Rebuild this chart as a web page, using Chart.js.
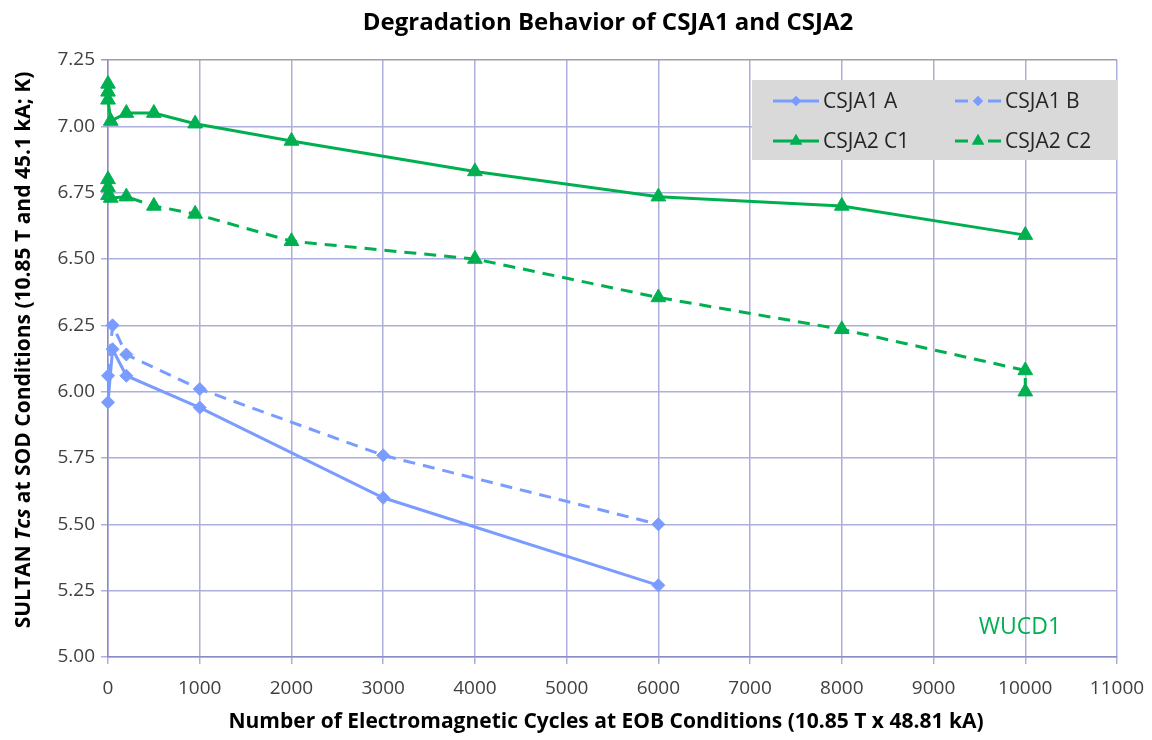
<!DOCTYPE html>
<html>
<head>
<meta charset="utf-8">
<script src="https://cdn.jsdelivr.net/npm/chart.js@4.4.1/dist/chart.umd.min.js"></script>
<style>
  body { margin: 0; background: #FFFFFF; }
  #chart { display: block; }
</style>
</head>
<body>
<canvas id="chart" width="1152" height="740"></canvas>
<script>
// data
const xA = [0, 50, 200, 1000, 3000, 6000];
const yA = [5.96, 6.16, 6.06, 5.94, 5.60, 5.27];
const xB = [0, 50, 200, 1000, 3000, 6000];
const yB = [6.06, 6.25, 6.14, 6.01, 5.76, 5.50];
const xC1 = [0, 0, 0, 30, 200, 500, 950, 2000, 4000, 6000, 8000, 10000];
const yC1 = [7.16, 7.13, 7.10, 7.02, 7.05, 7.05, 7.01, 6.945, 6.83, 6.735, 6.70, 6.59];
const xC2 = [0, 0, 0, 30, 200, 500, 950, 2000, 4000, 6000, 8000, 10000, 10000];
const yC2 = [6.80, 6.77, 6.74, 6.73, 6.735, 6.70, 6.67, 6.567, 6.50, 6.355, 6.235, 6.08, 6.00];
const seriesNames = ["CSJA1 A", "CSJA1 B", "CSJA2 C1", "CSJA2 C2"];

const blue = "#7b9cff";
const green = "#00b050";
const gridColor = "#aeaedc";
const font = "Open Sans";

const pts = (xs, ys) => xs.map((x, i) => ({x: x, y: ys[i]}));

const makeSet = function (name, xs, ys, color, style, dashed) {
    return {
        label: name,
        data: pts(xs, ys),
        showLine: true,
        clip: false,
        borderColor: color,
        backgroundColor: color,
        borderWidth: 3,
        borderDash: dashed ? [12, 8] : [],
        pointStyle: style,
        pointRadius: style === "triangle" ? 8.5 : 6.5,
        pointBorderWidth: 1,
        tension: 0
    };
};

// title, axis titles, legend box and the note
const decor = {
    id: "decor",
    afterDraw(chart) {
        const ctx = chart.ctx;
        const area = chart.chartArea;
        ctx.save();

        ctx.fillStyle = "#000000";
        ctx.textAlign = "center";
        ctx.textBaseline = "middle";
        ctx.font = "bold 24px '" + font + "'";
        ctx.fillText("Degradation Behavior of CSJA1 and CSJA2", 608, 23);

        ctx.font = "bold 21px '" + font + "'";
        ctx.fillText("Number of Electromagnetic Cycles at EOB Conditions (10.85 T x 48.81 kA)", 606, 722);

        // y title with italic Tcs
        const parts = [
            ["SULTAN ", "bold 21px '" + font + "'"],
            ["Tcs", "italic bold 21px '" + font + "'"],
            [" at SOD Conditions (10.85 T and 45.1 kA; K)", "bold 21px '" + font + "'"]
        ];
        let total = 0;
        parts.forEach(p => { ctx.font = p[1]; total += ctx.measureText(p[0]).width; });
        ctx.translate(24, 350);
        ctx.rotate(-Math.PI / 2);
        ctx.textAlign = "left";
        let pos = -total / 2;
        parts.forEach(p => {
            ctx.font = p[1];
            ctx.fillText(p[0], pos, 0);
            pos += ctx.measureText(p[0]).width;
        });
        ctx.setTransform(1, 0, 0, 1, 0, 0);

        // legend box
        ctx.fillStyle = "#d9d9d9";
        ctx.fillRect(752, 80, area.right - 752, 80);
        const slots = [[773, 101], [955, 101], [773, 141], [955, 141]];
        chart.data.datasets.forEach((ds, i) => {
            const sx = slots[i][0], sy = slots[i][1];
            ctx.strokeStyle = ds.borderColor;
            ctx.lineWidth = 3;
            ctx.beginPath();
            if (ds.borderDash.length) {
                ctx.moveTo(sx, sy); ctx.lineTo(sx + 13, sy);
                ctx.moveTo(sx + 33, sy); ctx.lineTo(sx + 46, sy);
            } else {
                ctx.moveTo(sx, sy); ctx.lineTo(sx + 46, sy);
            }
            ctx.stroke();
            ctx.fillStyle = ds.borderColor;
            Chart.helpers.drawPoint(ctx, {pointStyle: ds.pointStyle, radius: ds.pointRadius - 1.5, rotation: 0, borderWidth: 0}, sx + 23, sy);
            ctx.fill();
            ctx.fillStyle = "#262626";
            ctx.font = "21px '" + font + "'";
            ctx.textAlign = "left";
            ctx.textBaseline = "middle";
            ctx.fillText(ds.label, sx + 50, sy + 1);
        });

        ctx.fillStyle = green;
        ctx.font = "23px '" + font + "'";
        ctx.textAlign = "center";
        ctx.fillText("WUCD1", 1020, 627);
        ctx.restore();
    }
};

const ctx = document.getElementById("chart").getContext("2d");
const chart = new Chart(ctx, {
    type: "scatter",
    data: {
        datasets: [
            makeSet(seriesNames[0], xA, yA, blue, "rectRot", false),
            makeSet(seriesNames[1], xB, yB, blue, "rectRot", true),
            makeSet(seriesNames[2], xC1, yC1, green, "triangle", false),
            makeSet(seriesNames[3], xC2, yC2, green, "triangle", true)
        ]
    },
    options: {
        responsive: false,
        animation: false,
        layout: {padding: {left: 0, right: 35, top: 60, bottom: 0}},
        plugins: {legend: {display: false}, title: {display: false}, tooltip: {enabled: false}},
        scales: {
            x: {
                type: "linear",
                min: 0, max: 11000,
                afterFit: s => { s.height = 83; s.paddingRight = 0; s.paddingLeft = 0; },
                border: {color: "#8c8cc8", width: 1.5},
                grid: {color: gridColor, lineWidth: 1.5, tickLength: 7},
                ticks: {
                    stepSize: 1000, padding: 13, color: "#404040", maxRotation: 0,
                    font: {family: font, size: 19},
                    callback: v => String(v)
                }
            },
            y: {
                type: "linear",
                min: 5, max: 7.25,
                afterFit: s => { s.width = 108; s.paddingTop = 0; s.paddingBottom = 0; },
                border: {color: "#8c8cc8", width: 1.5},
                grid: {
                    color: c => c.tick && c.tick.value === 7.25 ? "#a0a0a0" : gridColor,
                    lineWidth: 1.5, tickLength: 7
                },
                ticks: {
                    stepSize: 0.25, padding: 6, color: "#404040",
                    font: {family: font, size: 19},
                    callback: v => v.toFixed(2)
                }
            }
        }
    },
    plugins: [decor]
});
</script>
</body>
</html>
